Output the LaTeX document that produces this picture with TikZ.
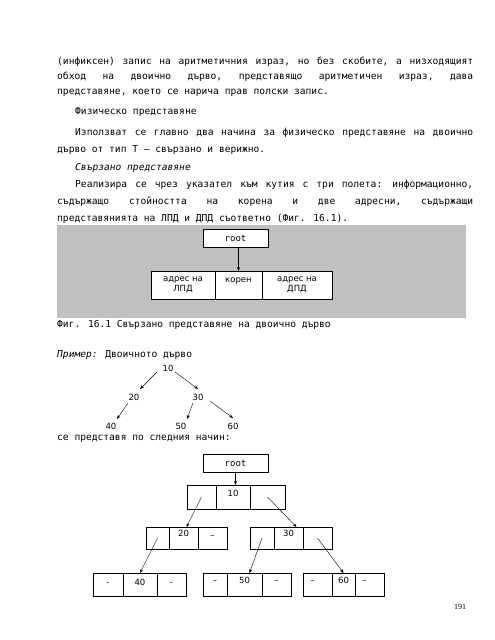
\documentclass[tikz,border=0pt]{standalone}
\usepackage{fontspec}
\setmainfont{DejaVu Sans Mono}
\newfontfamily\cellfont{DejaVu Sans}
\newfontfamily\pgnumfont{Liberation Serif}
\usetikzlibrary{positioning, arrows.meta}
\definecolor{panelg}{RGB}{192,192,192}
\newcommand\jline[2]{\makebox[#1][s]{#2}}

\begin{document}
\begin{tikzpicture}[x=1pt, y=-1pt,
            every node/.style={inner sep=0pt},
            tl/.style={anchor=west, font=\fontsize{9.6}{12}\selectfont},
            cell/.style={draw, fill=white, outer sep=0pt, minimum height=24},
            rootbox/.style={draw, fill=white, minimum width=65, minimum height=18,
              font=\fontsize{9}{10}\selectfont},
            fld/.style={cell, minimum height=28, align=center,
              font=\cellfont\fontsize{8.5}{10.5}\selectfont},
            ct/.style={anchor=north, text height=10pt, text depth=0pt,
              font=\cellfont\fontsize{8.5}{10}\selectfont},
            tn/.style={inner sep=2pt, font=\cellfont\fontsize{8.5}{10}\selectfont},
            ->/.style={-{Stealth[length=4pt, width=3pt]}, thin}]
          \useasboundingbox (0,0) rectangle (495,640);
          % text above the figure
          \node[tl] (l1) at (57,62) {\jline{416pt}{(инфиксен) \hfill запис \hfill на \hfill аритметичния \hfill израз, \hfill но \hfill без \hfill скобите, \hfill а \hfill низходящият}};
          \node[tl] (l2) at (57,77) {\jline{416pt}{обход \hfill на \hfill двоично \hfill дърво, \hfill представящо \hfill аритметичен \hfill израз, \hfill дава}};
          \node[tl] (l3) at (57,93) {представяне, което се нарича прав полски запис.};
          \node[tl] (l4) at (75,112) {Физическо представяне};
          \node[tl] (l5) at (75,133) {\jline{398pt}{Използват \hfill се \hfill главно \hfill два \hfill начина \hfill за \hfill физическо \hfill представяне \hfill на \hfill двоично}};
          \node[tl] (l6) at (57,150) {дърво от тип T – свързано и верижно.};
          \node[tl] (l7) at (75,168) {\itshape Свързано представяне};
          \node[tl] (l8) at (75,185) {\jline{398pt}{Реализира \hfill се \hfill чрез \hfill указател \hfill към \hfill кутия \hfill с \hfill три \hfill полета: \hfill информационно,}};
          \node[tl] (l9) at (57,202) {\jline{416pt}{съдържащо \hfill стойността \hfill на \hfill корена \hfill и \hfill две \hfill адресни, \hfill съдържащи}};
          \node[tl] (l10) at (57,219) {представянията на ЛПД и ДПД съответно (Фиг. 16.1).};
          % fig 16.1
          \fill[panelg] (57,225) rectangle (466,318);
          \node[rootbox] (root1) at (235.5,238) {root};
          \node[fld, minimum width=64] (lpd) at (183,285) {адрес на\\ЛПД};
          \node[fld, minimum width=47, right=0pt of lpd] (koren) {корен\\\mbox{}};
          \node[fld, minimum width=70, right=0pt of koren] (dpd) {адрес на\\ДПД};
          \draw [->] (root1.south -| koren) to (koren.north);
          \node[tl] (cap) at (57,325) {Фиг. 16.1 Свързано представяне на двоично дърво};
          % example tree
          \node[tl] (ex) at (57,355) {\textit{Пример:} Двоичното дърво};
          \node[tn] (t10) at (168,368) {10};
          \node[tn] (t20) at (134,397) {20};
          \node[tn] (t30) at (198,397) {30};
          \node[tn] (t40) at (111,426) {40};
          \node[tn] (t50) at (181,426) {50};
          \node[tn] (t60) at (233,426) {60};
          \draw [->] ([shift={(-11,4)}]t10.center) to ([shift={(6,-8)}]t20.center);
          \draw [->] ([shift={(7,4)}]t10.center) to ([shift={(0,-8)}]t30.center);
          \draw [->] ([shift={(-6,6)}]t20.center) to ([shift={(6,-7)}]t40.center);
          \draw [->] ([shift={(-5,6)}]t30.center) to ([shift={(6,-7)}]t50.center);
          \draw [->] ([shift={(12,4)}]t30.center) to ([shift={(0,-8)}]t60.center);
          \node[tl] (ex2) at (57,439) {се представя по следния начин:};
          % linked representation
          \node[rootbox] (root2) at (235.5,463) {root};
          \node[cell, minimum width=29] (a10) at (201.5,497) {};
          \node[cell, minimum width=34, right=0pt of a10, label={[ct, text height=11pt]north:10}] (b10) {};
          \node[cell, minimum width=35, right=0pt of b10] (c10) {};
          \node[cell, minimum width=23, minimum height=22] (a20) at (157.5,538) {};
          \node[cell, minimum width=29, minimum height=22, right=0pt of a20, label={[ct, text height=9pt]north:20}] (b20) {};
          \node[cell, minimum width=29, minimum height=22, right=0pt of b20, label={[ct, text height=11pt]north:–}] (c20) {};
          \node[cell, minimum width=24, minimum height=22] (a30) at (262,538) {};
          \node[cell, minimum width=29, minimum height=22, right=0pt of a30, label={[ct, text height=9pt]north:30}] (b30) {};
          \node[cell, minimum width=29, minimum height=22, right=0pt of b30] (c30) {};
          \node[cell, minimum width=30, minimum height=23, label={[ct, text height=12.5pt]north:-}] (a40) at (108,584.5) {};
          \node[cell, minimum width=34, minimum height=23, right=0pt of a40, label={[ct, text height=12.5pt]north:40}] (b40) {};
          \node[cell, minimum width=29, minimum height=23, right=0pt of b40, label={[ct, text height=12.5pt]north:-}] (c40) {};
          \node[cell, minimum width=24, minimum height=23, label={[ct]north:–}] (a50) at (215,584.5) {};
          \node[cell, minimum width=35, minimum height=23, right=0pt of a50, label={[ct]north:50}] (b50) {};
          \node[cell, minimum width=29, minimum height=23, right=0pt of b50, label={[ct]north:–}] (c50) {};
          \node[cell, minimum width=29, minimum height=23, label={[ct, xshift=-5pt]north:–}] (a60) at (317.5,584.5) {};
          \node[cell, minimum width=23, minimum height=23, right=0pt of a60, label={[ct]north:60}] (b60) {};
          \node[cell, minimum width=29, minimum height=23, right=0pt of b60, label={[ct, xshift=-5pt]north:–}] (c60) {};
          \draw [->] (root2.south) to (root2.south |- b10.north);
          \draw [->] (a10.center) to ([xshift=3pt]b20.north);
          \draw [->] (c10.center) to ([xshift=8pt]b30.north);
          \draw [->] (a20.center) to (b40.north);
          \draw [->] (a30.center) to ([xshift=5pt]b50.north);
          \draw [->] (c30.center) to (b60.north);
          \node[font=\pgnumfont\fontsize{8}{9}\selectfont] (pg) at (460,607) {191};
        \end{tikzpicture}
\end{document}
